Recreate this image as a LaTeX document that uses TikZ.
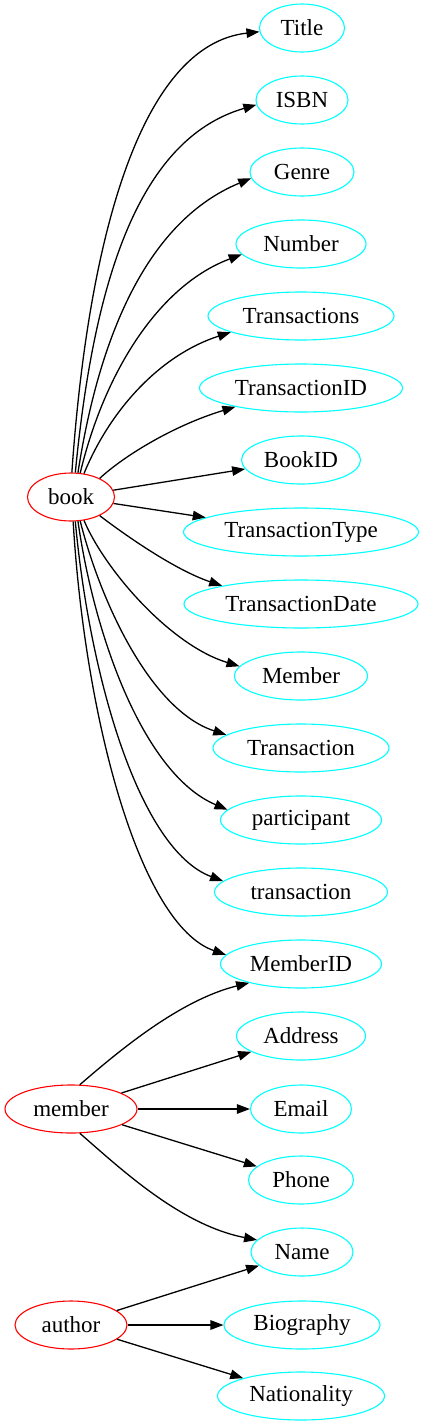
\documentclass[tikz,border=0pt]{standalone}
\usepackage{fontspec}
\setmainfont{Liberation Serif}
\usetikzlibrary{arrows.meta,shapes.geometric}
\definecolor{entred}{RGB}{255,0,0}
\definecolor{attcyan}{RGB}{0,255,255}
\begin{document}
\begin{tikzpicture}[x=1pt,y=-1pt,
  ent/.style={ellipse,draw=entred,line width=1.1pt,minimum height=48pt,inner sep=0pt,font=\fontsize{23}{27}\selectfont},
  att/.style={ellipse,draw=attcyan,line width=1.1pt,minimum height=48pt,inner sep=0pt,font=\fontsize{23}{27}\selectfont},
  edge/.style={draw=black,line width=1.3pt,-{Triangle[length=13pt,width=9.5pt]}}]
\useasboundingbox (0,0) rectangle (424,1427);
% entity nodes
\node[ent,minimum width=87pt] (book) at (71,497) {book};
\node[ent,minimum width=132pt] (member) at (71,1109) {member};
\node[ent,minimum width=112pt] (author) at (71,1325) {author};
% attribute nodes
\node[att,minimum width=85pt] (Title) at (302,28) {Title};
\node[att,minimum width=92pt] (ISBN) at (302,100) {ISBN};
\node[att,minimum width=104pt] (Genre) at (302,172) {Genre};
\node[att,minimum width=130pt] (Number) at (301,244) {Number};
\node[att,minimum width=186pt] (Transactions) at (301,316) {Transactions};
\node[att,minimum width=203pt] (TransactionID) at (301,388) {TransactionID};
\node[att,minimum width=119pt] (BookID) at (301,460) {BookID};
\node[att,minimum width=235pt] (TransactionType) at (301,532) {TransactionType};
\node[att,minimum width=234pt] (TransactionDate) at (301,604) {TransactionDate};
\node[att,minimum width=133pt] (Member) at (301,676) {Member};
\node[att,minimum width=176pt] (Transaction) at (301,748) {Transaction};
\node[att,minimum width=161pt] (participant) at (301,820) {participant};
\node[att,minimum width=173pt] (transaction) at (301,892) {transaction};
\node[att,minimum width=161pt] (MemberID) at (301,964) {MemberID};
\node[att,minimum width=129pt] (Address) at (301,1036) {Address};
\node[att,minimum width=101pt] (Email) at (301,1109) {Email};
\node[att,minimum width=105pt] (Phone) at (301,1180) {Phone};
\node[att,minimum width=102pt] (Name) at (302,1252) {Name};
\node[att,minimum width=156pt] (Biography) at (302,1325) {Biography};
\node[att,minimum width=167pt] (Nationality) at (301,1396) {Nationality};
% book edges
\draw[edge] (book.88) .. controls (88,240) and (140,45) .. (Title.185);
\draw[edge] (book.80) .. controls (93,290) and (135,140) .. (ISBN.186);
\draw[edge] (book.74) .. controls (100,330) and (150,220) .. (Genre.187);
\draw[edge] (book.69) .. controls (105,370) and (160,285) .. (Number.190);
\draw[edge] (book.61) .. controls (110,410) and (160,355) .. (Transactions.193);
\draw[edge] (book.33) .. controls (125,455) and (175,425) .. (TransactionID.196);
\draw[edge] (book) -- (BookID);
\draw[edge] (book) -- (TransactionType);
\draw[edge] (book.327) .. controls (125,535) and (175,570) .. (TransactionDate.167);
\draw[edge] (book.299) .. controls (105,570) and (170,645) .. (Member.171);
\draw[edge] (book.291) .. controls (100,600) and (150,710) .. (Transaction.170);
\draw[edge] (book.286) .. controls (95,640) and (145,775) .. (participant.172);
\draw[edge] (book.280) .. controls (90,680) and (140,850) .. (transaction.172);
\draw[edge] (book.275) .. controls (85,720) and (140,925) .. (MemberID.173);
% member edges
\draw[edge] (member.70) .. controls (120,1050) and (180,1000) .. (MemberID.200);
\draw[edge] (member) -- (Address);
\draw[edge] (member) -- (Email);
\draw[edge] (member) -- (Phone);
\draw[edge] (member.290) .. controls (120,1168) and (180,1225) .. (Name.165);
% author edges
\draw[edge] (author) -- (Name);
\draw[edge] (author) -- (Biography);
\draw[edge] (author) -- (Nationality);
\end{tikzpicture}
\end{document}
